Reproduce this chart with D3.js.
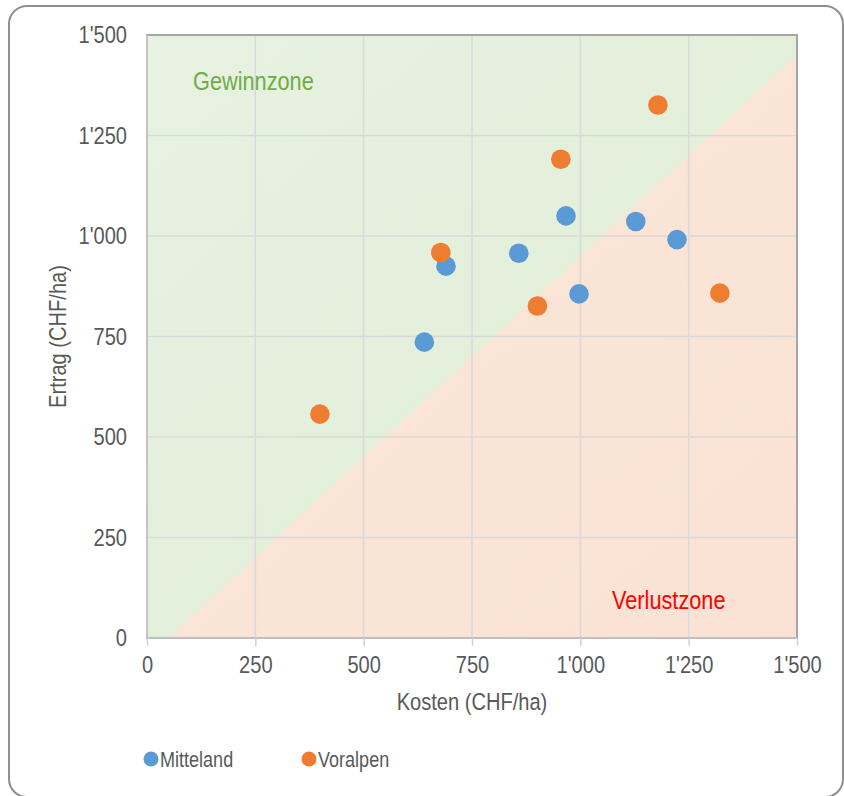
<!DOCTYPE html>
<html>
<head>
<meta charset="utf-8">
<script src="https://cdn.jsdelivr.net/npm/d3@7"></script>
<style>
  html, body { margin: 0; padding: 0; background: #ffffff; }
  svg { display: block; }
  text { font-family: "Liberation Sans Narrow", "Arial Narrow", "Liberation Sans", sans-serif; fill: #595959; }
</style>
</head>
<body>
<svg id="chart" width="844" height="796"></svg>
<script>
// Kosten (x) und Ertrag (y) je Betrieb, CHF/ha
const mittelandKosten = [640, 690, 858, 967, 997, 1128, 1223];
const mittelandErtrag = [736, 925, 957, 1050, 856, 1036, 991];
const voralpenKosten = [399, 678, 901, 955, 1179, 1322];
const voralpenErtrag = [557, 959, 826, 1191, 1326, 858];

const tickValues = [0, 250, 500, 750, 1000, 1250, 1500];
const domainMax = 1500;
// Gewinnschwelle: Ertrag = Kosten - 50
const breakEvenOffset = 50;

const seriesNames = ["Mitteland", "Voralpen"];
const seriesColors = ["#5b9bd5", "#ed7d31"];

// horizontal squeeze for a narrow typeface look
const NARROW = 0.82;

const svg = d3.select("#chart");

// places a horizontally condensed label at (px, py)
function label(parent, px, py, str, size, opts = {}) {
  const t = parent.append("text")
    .attr("transform", `translate(${px},${py})${opts.rotate ? ` rotate(${opts.rotate})` : ""} scale(${NARROW},1)`)
    .attr("font-size", size)
    .attr("text-anchor", opts.anchor || "start")
    .text(str);
  if (opts.fill) t.style("fill", opts.fill);
  return t;
}

// outer frame
svg.append("rect")
  .attr("x", 9).attr("y", 6)
  .attr("width", 834).attr("height", 791)
  .attr("rx", 18).attr("ry", 18)
  .attr("fill", "#ffffff")
  .attr("stroke", "#8f8f8f")
  .attr("stroke-width", 2);

const plot = { left: 147, right: 797, top: 35, bottom: 638 };

const x = d3.scaleLinear().domain([0, domainMax]).range([plot.left, plot.right]);
const y = d3.scaleLinear().domain([0, domainMax]).range([plot.bottom, plot.top]);

const defs = svg.append("defs");
const gGreen = defs.append("linearGradient").attr("id", "gGreen")
  .attr("x1", "0").attr("y1", "0").attr("x2", "1").attr("y2", "1");
gGreen.append("stop").attr("offset", "0").attr("stop-color", "#e7f2e1");
gGreen.append("stop").attr("offset", "1").attr("stop-color", "#dfedd5");
const gOrange = defs.append("linearGradient").attr("id", "gOrange")
  .attr("x1", "0").attr("y1", "0").attr("x2", "1").attr("y2", "1");
gOrange.append("stop").attr("offset", "0").attr("stop-color", "#fbe6d9");
gOrange.append("stop").attr("offset", "1").attr("stop-color", "#fae3d4");

// Gewinnzone (whole plot), then Verlustzone below the break-even line
svg.append("rect")
  .attr("x", x(0)).attr("y", y(domainMax))
  .attr("width", x(domainMax) - x(0)).attr("height", y(0) - y(domainMax))
  .attr("fill", "url(#gGreen)");

const lossZone = [
  [breakEvenOffset, 0],
  [domainMax, 0],
  [domainMax, domainMax - breakEvenOffset]
];
svg.append("path")
  .attr("d", "M" + lossZone.map(p => [x(p[0]), y(p[1])].join(",")).join("L") + "Z")
  .attr("fill", "url(#gOrange)");

// grid
const grid = svg.append("g");
grid.selectAll("line.v").data(tickValues.slice(1, -1)).join("line")
  .attr("x1", d => x(d)).attr("x2", d => x(d))
  .attr("y1", y(domainMax)).attr("y2", y(0))
  .attr("stroke", "#dadada").attr("stroke-width", 1.5);
grid.selectAll("line.h").data(tickValues.slice(1, -1)).join("line")
  .attr("y1", d => y(d)).attr("y2", d => y(d))
  .attr("x1", x(0)).attr("x2", x(domainMax))
  .attr("stroke", "#dadada").attr("stroke-width", 1.5);

// plot frame
svg.append("rect")
  .attr("x", x(0)).attr("y", y(domainMax))
  .attr("width", x(domainMax) - x(0)).attr("height", y(0) - y(domainMax))
  .attr("fill", "none").attr("stroke", "#a6a6a6").attr("stroke-width", 2);
svg.append("line")
  .attr("x1", x(0)).attr("x2", x(domainMax)).attr("y1", y(0)).attr("y2", y(0))
  .attr("stroke", "#bfbfbf").attr("stroke-width", 2);
svg.append("line")
  .attr("x1", x(0)).attr("x2", x(0)).attr("y1", y(0)).attr("y2", y(domainMax))
  .attr("stroke", "#c4c4c4").attr("stroke-width", 2);

const fmt = d => d3.format(",")(d).replace(/,/g, "'");

// x axis
const xAxis = d3.axisBottom(x).tickValues(tickValues)
  .tickSize(8).tickPadding(10).tickFormat(fmt);
const gx = svg.append("g").attr("transform", `translate(0,${y(0)})`).call(xAxis);
gx.select(".domain").remove();
gx.selectAll(".tick line").attr("stroke", "#d0d0d0").attr("stroke-width", 1.5);
gx.selectAll(".tick text")
  .attr("font-size", 24.5).attr("fill", "#595959")
  .attr("transform", `scale(${NARROW},1)`)
  .style("font-family", "'Liberation Sans Narrow', 'Arial Narrow', 'Liberation Sans', sans-serif");

// y axis
const yAxis = d3.axisLeft(y).tickValues(tickValues)
  .tickSize(0).tickPadding(20 / NARROW).tickFormat(fmt);
const gy = svg.append("g").attr("transform", `translate(${x(0)},0)`).call(yAxis);
gy.select(".domain").remove();
gy.selectAll(".tick text")
  .attr("font-size", 24.5).attr("fill", "#595959")
  .attr("transform", `scale(${NARROW},1)`)
  .style("font-family", "'Liberation Sans Narrow', 'Arial Narrow', 'Liberation Sans', sans-serif");

// axis titles
label(svg, (x(0) + x(domainMax)) / 2, 710, "Kosten (CHF/ha)", 24.5, { anchor: "middle" });
label(svg, 66, (y(0) + y(domainMax)) / 2, "Ertrag (CHF/ha)", 24.5, { anchor: "middle", rotate: -90 });

// zone labels
label(svg, 193, 90, "Gewinnzone", 26.5, { fill: "#70ad47" });
label(svg, 612, 609, "Verlustzone", 26.5, { fill: "#ff0000" });

// points
const series = [
  { name: seriesNames[0], color: seriesColors[0], xs: mittelandKosten, ys: mittelandErtrag },
  { name: seriesNames[1], color: seriesColors[1], xs: voralpenKosten, ys: voralpenErtrag }
];
series.forEach(s => {
  svg.append("g").selectAll("circle")
    .data(s.xs.map((v, i) => [v, s.ys[i]]))
    .join("circle")
    .attr("cx", d => x(d[0])).attr("cy", d => y(d[1]))
    .attr("r", 9.8)
    .attr("fill", s.color);
});

// legend
const legendX = [151, 309];
series.forEach((s, i) => {
  const g = svg.append("g").attr("transform", `translate(${legendX[i]},759)`);
  g.append("circle").attr("r", 7.5).attr("fill", s.color);
  label(g, 9, 8, s.name, 22);
});
</script>
</body>
</html>
